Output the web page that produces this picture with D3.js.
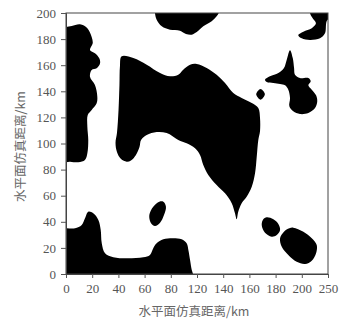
<!DOCTYPE html>
<html>
<head>
<meta charset="utf-8">
<script src="https://cdn.jsdelivr.net/npm/d3@7"></script>
<style>
  body { margin: 0; background: #fff; }
  .axis-title { font-family: "Noto Sans CJK SC", sans-serif; font-size: 12.5px; fill: #666; }
</style>
</head>
<body>
<div id="chart"></div>
<script>
// tick values (km) and the labels printed under them
const xTicks = [0, 20, 40, 60, 80, 100, 120, 140, 160, 180, 200];
const xTickLabels = ['0', '20', '40', '60', '80', '120', '140', '160', '180', '200', '250'];
const yTicks = [0, 20, 40, 60, 80, 100, 120, 140, 160, 180, 200];
const axisTitle = '水平面仿真距离/km';

// outlines of the black regions, [x km, y km]
const blobLeft = [
  [-5, 189], [0, 189.3], [4.4, 190], [10.7, 191.3], [16.3, 188.3], [19.6, 181.6], [20.4, 176.8],
  [18.3, 171.6], [22.1, 169.1], [25.4, 165.3], [26, 161.5], [23.4, 157.6], [19.6, 156.3],
  [18.3, 151.2], [22.1, 144.8], [23.9, 135.9], [23.4, 130.8], [19.6, 125.7], [16.6, 121.8],
  [16.3, 112.9], [17, 102.7], [16.3, 92.5], [14.5, 87.4], [9.4, 85.6], [3.1, 86.1], [-5, 86.5]
];
const blobTop = [
  [67.5, 206], [67.9, 200], [69.2, 194.9], [73.1, 189.8], [79.4, 187.2], [87, 186.4], [91.6, 183.9],
  [96, 183.4], [99.8, 185.4], [104.8, 189.8], [111.2, 193.6], [115, 197.5], [117, 201], [117.5, 206]
];
const blobCorner = [
  [186, 206], [186.3, 199.8], [188.3, 195.9], [190.8, 192.1], [187.6, 188.3], [181.2, 185.7],
  [177.3, 183.1], [179.9, 180.6], [186.3, 179.3], [193.9, 180.6], [197.7, 184.4], [199.5, 194.6],
  [206, 196], [206, 206]
];
const blobCentre = [
  [42.5, 166.8], [51.4, 165.5], [61.6, 160.4], [71.8, 154.0], [79.4, 151.5], [85.7, 152.7],
  [89.5, 156.6], [94.7, 160.4], [99.8, 160.9], [107.4, 157.9], [115.0, 152.7], [121.4, 146.4],
  [127.7, 138.7], [134.1, 134.9], [141.8, 131.0], [146.8, 127.2], [148.1, 119.5], [148.1, 109.4],
  [146.8, 102.7], [145.6, 89.9], [144.3, 77.2], [141.8, 66.9], [137.9, 59.2], [134.1, 54.2],
  [131.5, 47.7], [130.3, 41.9], [129.0, 46.5], [126.5, 54.2], [121.4, 61.8], [115.0, 68.2],
  [108.6, 75.9], [104.8, 83.5], [102.3, 91.2], [98.5, 96.3], [92.1, 100.2], [85.7, 102.7],
  [76.9, 108.0], [69.2, 108.8], [61.6, 106.5], [57.3, 102.7], [56.1, 97.3], [53.4, 91.2],
  [49.6, 87.0], [46.3, 86.1], [42.0, 88.1], [38.9, 93.5], [37.8, 100.4], [38.9, 108.0],
  [40.1, 125.7], [40.8, 144.8], [41.2, 159.4]
];
const blobDot = [[148.5, 141.8], [151.8, 137.7], [148.5, 133.6], [145.2, 137.7]];
const blobRight = [
  [171.0, 171.5], [173.1, 165.5], [174.1, 157.9], [174.8, 152.7], [178.6, 150.2], [185.0, 150.2],
  [186.8, 147.7], [185.0, 144.6], [187.6, 141.2], [190.9, 136.9], [191.8, 132.3], [190.1, 127.2],
  [185.0, 123.4], [178.6, 122.6], [173.5, 124.7], [170.5, 128.5], [171.0, 134.9], [169.7, 141.2],
  [167.2, 144.6], [163.4, 145.6], [158.3, 146.4], [153.2, 147.1], [151.9, 148.9], [155.7, 151.5],
  [162.1, 154.0], [166.4, 157.9], [168.5, 164.2]
];
const blobBottom = [
  [-5, 35], [0.5, 35.0], [6.9, 35.0], [12.0, 37.5], [14.5, 42.7], [17.0, 47.7], [20.8, 46.5],
  [24.7, 41.4], [26.5, 33.7], [27.3, 23.5], [29.8, 15.9], [36.1, 12.8], [46.3, 12.0], [59.0, 12.8],
  [64.1, 14.6], [66.6, 19.7], [69.2, 23.5], [74.3, 26.6], [81.9, 27.4], [88.3, 26.6], [92.1, 23.5],
  [93.4, 18.4], [94.7, 10.7], [96.0, 3.1], [97.2, -1], [97.5, -6], [-5, -6]
];
const blobEgg = [
  [74.3, 55.4], [76.3, 51.6], [74.8, 45.2], [71.8, 39.3], [67.9, 36.8], [64.7, 39.3],
  [63.6, 45.2], [66.6, 51.6], [71.2, 55.4]
];
const blobSmall = [
  [153.2, 43.4], [158.3, 41.9], [162.1, 38.3], [163.4, 33.7], [160.9, 29.9], [157.0, 28.6],
  [151.9, 31.6], [149.4, 37.5], [150.6, 41.9]
];
const blobRound = [
  [173.5, 35.5], [181.2, 32.4], [187.6, 27.4], [191.4, 22.2], [190.9, 15.9], [187.6, 10.2],
  [182.5, 7.7], [176.1, 9.4], [169.7, 14.6], [164.7, 20.9], [163.4, 27.4], [166.4, 32.4], [170.5, 35.0]
];
const blobs = [blobLeft, blobTop, blobCorner, blobCentre, blobDot, blobRight,
  blobBottom, blobEgg, blobSmall, blobRound];

const width = 339, height = 322;
const margin = {top: 13, right: 11, bottom: 48, left: 66};
const w = width - margin.left - margin.right;
const h = height - margin.top - margin.bottom;

const x = d3.scaleLinear().domain([0, 200]).range([0, w]);
const y = d3.scaleLinear().domain([0, 200]).range([h, 0]);

const svg = d3.select('#chart').append('svg')
  .attr('width', width)
  .attr('height', height);

const chart = svg.append('g')
  .attr('transform', 'translate(' + margin.left + ',' + margin.top + ')');

chart.append('clipPath')
  .attr('id', 'plot-clip')
  .append('rect')
  .attr('width', w)
  .attr('height', h);

const outline = d3.line()
  .x(d => x(d[0]))
  .y(d => y(d[1]))
  .curve(d3.curveCatmullRomClosed.alpha(0.5));

chart.append('g')
  .attr('clip-path', 'url(#plot-clip)')
  .selectAll('path')
  .data(blobs)
  .enter().append('path')
  .attr('d', outline)
  .attr('fill', '#000');

// frame
chart.append('rect')
  .attr('width', w)
  .attr('height', h)
  .attr('fill', 'none')
  .attr('stroke', '#444')
  .attr('stroke-width', 1);

const axisX = chart.append('g')
  .attr('transform', 'translate(0,' + h + ')')
  .call(d3.axisBottom(x).tickValues(xTicks).tickSize(4).tickPadding(6)
    .tickFormat((d, i) => xTickLabels[i]));

const axisY = chart.append('g')
  .call(d3.axisLeft(y).tickValues(yTicks).tickSize(5).tickPadding(5));

[axisX, axisY].forEach(a => {
  a.attr('font-family', '"Liberation Serif", "Times New Roman", serif')
    .attr('font-size', 13);
  a.select('.domain').attr('stroke', '#444');
  a.selectAll('.tick line').attr('stroke', '#555');
  a.selectAll('.tick text').attr('fill', '#555');
});

svg.append('text')
  .attr('class', 'axis-title')
  .attr('x', margin.left + w / 2 - 3)
  .attr('y', 316)
  .attr('text-anchor', 'middle')
  .text(axisTitle);

svg.append('text')
  .attr('class', 'axis-title')
  .attr('transform', 'translate(25,' + (margin.top + h / 2 + 3) + ') rotate(-90)')
  .attr('text-anchor', 'middle')
  .text(axisTitle);
</script>
</body>
</html>
